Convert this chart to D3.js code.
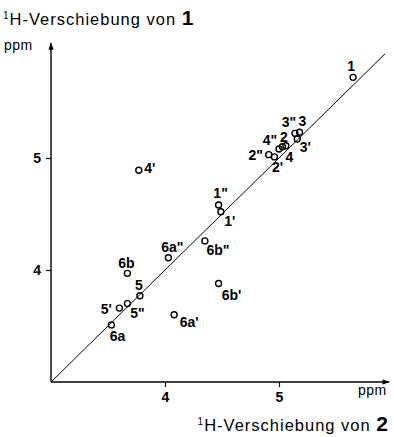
<!DOCTYPE html>
<html lang="de">
<head>
<meta charset="UTF-8">
<title>1H-Verschiebung</title>
<style>
  *{margin:0;padding:0;}
  body{background:#fff;}
  svg{display:block;font-family:"Liberation Sans",Arial,sans-serif;}
</style>
</head>
<body>
<div id="chart"></div>
<script src="https://cdn.jsdelivr.net/npm/d3@7"></script>
<script>
// signal names and shifts (ppm): x = compound 2, y = compound 1
var names  = ['1', '3"', '3', "3'", '2', '4', '4"', '2"', "2'", '1"', "1'", '6a"', '6b"', "6b'", "6a'", "4'", '6b', '5', '5"', "5'", '6a']
var shift2 = [5.65, 5.14, 5.18, 5.16, 5.06, 5.03, 5.00, 4.91, 4.96, 4.47, 4.49, 4.03, 4.35, 4.47, 4.08, 3.77, 3.67, 3.78, 3.67, 3.60, 3.53]
var shift1 = [5.72, 5.22, 5.23, 5.17, 5.11, 5.10, 5.08, 5.03, 5.01, 4.58, 4.52, 4.11, 4.26, 3.88, 3.60, 4.89, 3.97, 3.77, 3.70, 3.66, 3.51]
var xTicks = [4, 5]
var yTicks = [4, 5]

// where each label sits relative to its circle (px)
var labelOff = [[-2,-11],[-6,-11],[3,-11],[8,8],[-2,-9],[7,10],[-9,-9],[-13,0],[3,10],[2,-12],[9,9],
  [4,-11],[13,9],[13,12],[15,7],[11,-2],[-1,-10],[-1,-11],[10,9],[-13,1],[6,11]]

var W = 394, H = 437
var svg = d3.select('#chart').append('svg').attr('width', W).attr('height', H)

var x = d3.scaleLinear().domain([3, 5]).range([51, 279])
var y = d3.scaleLinear().domain([3, 5]).range([382, 158])

// axes lines with arrows
svg.append('line').attr('x1', x(3)).attr('y1', y(3)).attr('x2', x(5.96)).attr('y2', y(3))
  .attr('stroke', '#000').attr('stroke-width', 1.4)
svg.append('line').attr('x1', x(3)).attr('y1', y(3)).attr('x2', x(3)).attr('y2', y(6.02))
  .attr('stroke', '#000').attr('stroke-width', 1.4)
svg.append('path').attr('d', `M${x(5.96)+2},${y(3)} l-8,-2.5 l0,5 z`).attr('fill', '#000')
svg.append('path').attr('d', `M${x(3)},${y(6.02)-2} l-2.5,8 l5,0 z`).attr('fill', '#000')

var xAxis = svg.append('g').attr('transform', `translate(0,${y(3)})`)
  .call(d3.axisBottom(x).tickValues(xTicks).tickSize(5).tickPadding(5).tickFormat(d3.format('d')))
var yAxis = svg.append('g').attr('transform', `translate(${x(3)},0)`)
  .call(d3.axisLeft(y).tickValues(yTicks).tickSize(5).tickPadding(5).tickFormat(d3.format('d')))
svg.selectAll('.domain').remove()
svg.selectAll('.tick line').attr('stroke', '#000').attr('stroke-width', 1.2)
svg.selectAll('.tick text').attr('fill', '#000').style('font-size', '14px').style('font-weight', 'bold')
  .style('font-family', '"Liberation Sans",Arial,sans-serif')

// diagonal y = x
svg.append('line').attr('x1', x(3)).attr('y1', y(3)).attr('x2', x(5.93)).attr('y2', y(5.93))
  .attr('stroke', '#000').attr('stroke-width', 1)

// unit labels
svg.append('text').attr('x', 4).attr('y', 50).text('ppm').style('font-size', '14px').attr('letter-spacing', 0.5)
svg.append('text').attr('x', 358).attr('y', 395).text('ppm').style('font-size', '14px').attr('letter-spacing', 0.5)

// titles
function title(tx, ty, num, anchor) {
  var t = svg.append('text').attr('x', tx).attr('y', ty).attr('text-anchor', anchor)
    .style('font-size', '16.5px').attr('letter-spacing', 1)
  t.append('tspan').text('1').style('font-size', '10px').attr('dy', -6)
  t.append('tspan').text('H-Verschiebung von ').attr('dy', 6)
  t.append('tspan').text(num).style('font-size', '21px').style('font-weight', 'bold')
}
title(3, 25, '1', 'start')
title(389, 431, '2', 'end')

// points
var pts = svg.append('g')
pts.selectAll('circle').data(names).join('circle')
  .attr('cx', (d, i) => x(shift2[i])).attr('cy', (d, i) => y(shift1[i])).attr('r', 3)
  .attr('fill', 'none').attr('stroke', '#000').attr('stroke-width', 1.4)

pts.selectAll('text').data(names).join('text')
  .attr('x', (d, i) => x(shift2[i]) + labelOff[i][0])
  .attr('y', (d, i) => y(shift1[i]) + labelOff[i][1])
  .attr('text-anchor', 'middle').attr('dominant-baseline', 'central')
  .style('font-size', '14px').style('font-weight', 'bold')
  .text(d => d)
</script>
</body>
</html>
